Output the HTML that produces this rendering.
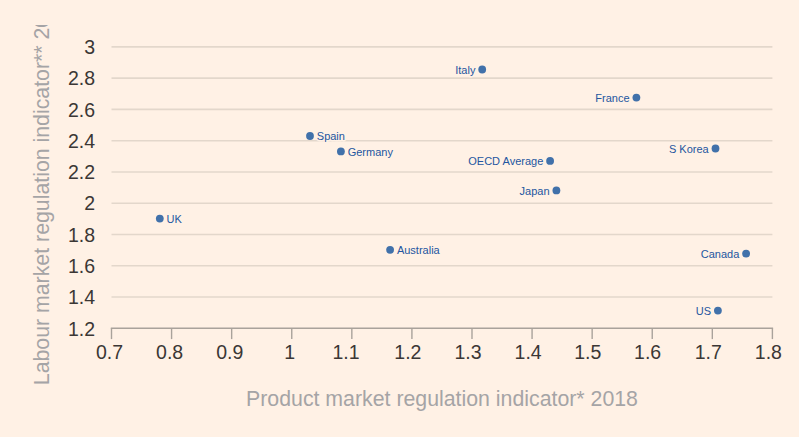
<!DOCTYPE html>
<html><head><meta charset="utf-8"><title>Chart</title>
<style>
html,body{margin:0;padding:0;background:#FFF1E5;width:799px;height:437px;overflow:hidden}
svg{display:block}
.tk{font-family:"Liberation Sans", "DejaVu Sans", sans-serif;font-size:19.5px;fill:#3B3735}
.ti{font-family:"Liberation Sans", "DejaVu Sans", sans-serif;font-size:21.3px;fill:#A5A4A6}
.lb{font-family:"Liberation Sans", "DejaVu Sans", sans-serif;font-size:11px;fill:#2456A0;paint-order:stroke;stroke:#FFF1E5;stroke-width:3px;stroke-linejoin:round}
</style></head><body>
<svg width="799" height="437" viewBox="0 0 799 437">
<defs><clipPath id="yc"><rect x="0" y="25" width="100" height="420"/></clipPath></defs>
<rect x="0" y="0" width="799" height="437" fill="#FFF1E5"/>
<line x1="111.5" x2="772.4" y1="297.03" y2="297.03" stroke="#E3D7CB" stroke-width="1.6"/>
<line x1="111.5" x2="772.4" y1="265.76" y2="265.76" stroke="#E3D7CB" stroke-width="1.6"/>
<line x1="111.5" x2="772.4" y1="234.49" y2="234.49" stroke="#E3D7CB" stroke-width="1.6"/>
<line x1="111.5" x2="772.4" y1="203.22" y2="203.22" stroke="#E3D7CB" stroke-width="1.6"/>
<line x1="111.5" x2="772.4" y1="171.95" y2="171.95" stroke="#E3D7CB" stroke-width="1.6"/>
<line x1="111.5" x2="772.4" y1="140.68" y2="140.68" stroke="#E3D7CB" stroke-width="1.6"/>
<line x1="111.5" x2="772.4" y1="109.41" y2="109.41" stroke="#E3D7CB" stroke-width="1.6"/>
<line x1="111.5" x2="772.4" y1="78.14" y2="78.14" stroke="#E3D7CB" stroke-width="1.6"/>
<line x1="111.5" x2="772.4" y1="46.87" y2="46.87" stroke="#E3D7CB" stroke-width="1.6"/>
<line x1="110.8" x2="773.1" y1="328.30" y2="328.30" stroke="#A9A29B" stroke-width="1.6"/>
<line x1="111.50" x2="111.50" y1="328.30" y2="339.10" stroke="#A9A29B" stroke-width="1.4"/>
<line x1="171.58" x2="171.58" y1="328.30" y2="339.10" stroke="#A9A29B" stroke-width="1.4"/>
<line x1="231.66" x2="231.66" y1="328.30" y2="339.10" stroke="#A9A29B" stroke-width="1.4"/>
<line x1="291.75" x2="291.75" y1="328.30" y2="339.10" stroke="#A9A29B" stroke-width="1.4"/>
<line x1="351.83" x2="351.83" y1="328.30" y2="339.10" stroke="#A9A29B" stroke-width="1.4"/>
<line x1="411.91" x2="411.91" y1="328.30" y2="339.10" stroke="#A9A29B" stroke-width="1.4"/>
<line x1="471.99" x2="471.99" y1="328.30" y2="339.10" stroke="#A9A29B" stroke-width="1.4"/>
<line x1="532.07" x2="532.07" y1="328.30" y2="339.10" stroke="#A9A29B" stroke-width="1.4"/>
<line x1="592.15" x2="592.15" y1="328.30" y2="339.10" stroke="#A9A29B" stroke-width="1.4"/>
<line x1="652.24" x2="652.24" y1="328.30" y2="339.10" stroke="#A9A29B" stroke-width="1.4"/>
<line x1="712.32" x2="712.32" y1="328.30" y2="339.10" stroke="#A9A29B" stroke-width="1.4"/>
<line x1="772.40" x2="772.40" y1="328.30" y2="339.10" stroke="#A9A29B" stroke-width="1.4"/>
<text x="95" y="335.5" text-anchor="end" class="tk">1.2</text>
<text x="95" y="304.2" text-anchor="end" class="tk">1.4</text>
<text x="95" y="273.0" text-anchor="end" class="tk">1.6</text>
<text x="95" y="241.7" text-anchor="end" class="tk">1.8</text>
<text x="95" y="210.4" text-anchor="end" class="tk">2</text>
<text x="95" y="179.1" text-anchor="end" class="tk">2.2</text>
<text x="95" y="147.9" text-anchor="end" class="tk">2.4</text>
<text x="95" y="116.6" text-anchor="end" class="tk">2.6</text>
<text x="95" y="85.3" text-anchor="end" class="tk">2.8</text>
<text x="95" y="54.1" text-anchor="end" class="tk">3</text>
<text x="109.5" y="359" text-anchor="middle" class="tk">0.7</text>
<text x="169.6" y="359" text-anchor="middle" class="tk">0.8</text>
<text x="229.7" y="359" text-anchor="middle" class="tk">0.9</text>
<text x="289.7" y="359" text-anchor="middle" class="tk">1</text>
<text x="346.0" y="359" text-anchor="middle" class="tk">1.1</text>
<text x="407.9" y="359" text-anchor="middle" class="tk">1.2</text>
<text x="468.0" y="359" text-anchor="middle" class="tk">1.3</text>
<text x="528.1" y="359" text-anchor="middle" class="tk">1.4</text>
<text x="587.8" y="359" text-anchor="middle" class="tk">1.5</text>
<text x="647.6" y="359" text-anchor="middle" class="tk">1.6</text>
<text x="708.3" y="359" text-anchor="middle" class="tk">1.7</text>
<text x="768.4" y="359" text-anchor="middle" class="tk">1.8</text>
<text x="442" y="405.9" text-anchor="middle" class="ti">Product market regulation indicator* 2018</text>
<g clip-path="url(#yc)"><text transform="translate(49,385.2) rotate(-90)" class="ti">Labour market regulation indicator** 2013</text></g>
<circle cx="482.2" cy="69.5" r="3.9" fill="#4171AA"/>
<circle cx="636.4" cy="97.6" r="3.9" fill="#4171AA"/>
<circle cx="310.0" cy="136.0" r="3.9" fill="#4171AA"/>
<circle cx="340.9" cy="151.4" r="3.9" fill="#4171AA"/>
<circle cx="550.1" cy="160.9" r="3.9" fill="#4171AA"/>
<circle cx="715.5" cy="148.5" r="3.9" fill="#4171AA"/>
<circle cx="556.4" cy="190.4" r="3.9" fill="#4171AA"/>
<circle cx="159.8" cy="218.6" r="3.9" fill="#4171AA"/>
<circle cx="390.1" cy="249.8" r="3.9" fill="#4171AA"/>
<circle cx="746.1" cy="253.6" r="3.9" fill="#4171AA"/>
<circle cx="717.9" cy="310.6" r="3.9" fill="#4171AA"/>
<text x="475.4" y="73.8" text-anchor="end" class="lb">Italy</text>
<text x="629.6" y="101.9" text-anchor="end" class="lb">France</text>
<text x="316.8" y="140.3" class="lb">Spain</text>
<text x="347.7" y="155.7" class="lb">Germany</text>
<text x="543.3" y="165.2" text-anchor="end" class="lb">OECD Average</text>
<text x="708.7" y="152.8" text-anchor="end" class="lb">S Korea</text>
<text x="549.6" y="194.7" text-anchor="end" class="lb">Japan</text>
<text x="166.6" y="222.9" class="lb">UK</text>
<text x="396.9" y="254.1" class="lb">Australia</text>
<text x="739.3" y="257.9" text-anchor="end" class="lb">Canada</text>
<text x="711.1" y="314.9" text-anchor="end" class="lb">US</text>
</svg>
</body></html>
